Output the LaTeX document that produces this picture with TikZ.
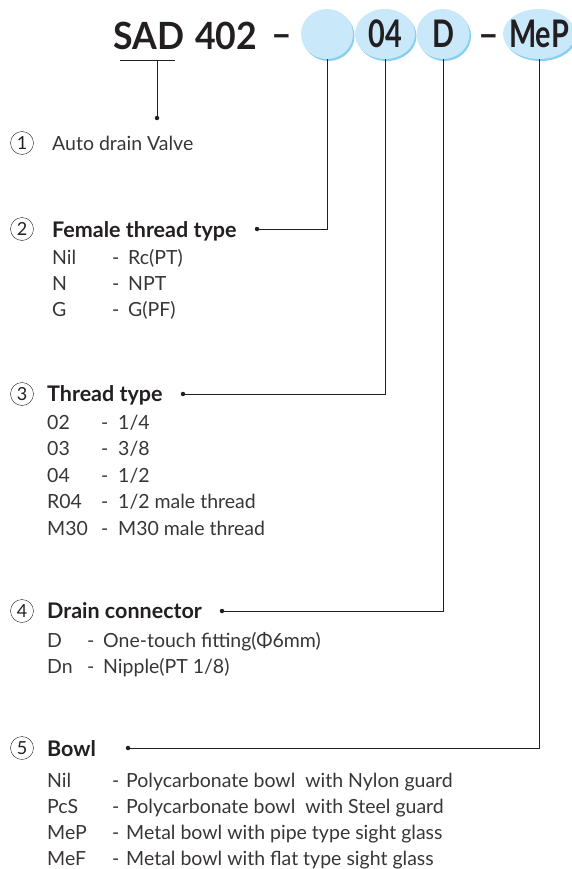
\documentclass[tikz,border=0pt]{standalone}
\usepackage{fontspec}
\setmainfont{Lato}
\newfontfamily\titlefont[FakeStretch=0.95]{Lato}
\newfontfamily\codefont[FakeStretch=0.76]{Lato}
\usetikzlibrary{shapes.geometric}
\definecolor{bubblefill}{HTML}{C9E9FA}
\definecolor{bubbleedge}{HTML}{86CFF2}
\definecolor{ink}{HTML}{231F20}
\tikzset{>=latex,%
  codetext/.style={inner sep=0pt,text=ink,font=\codefont\bfseries\fontsize{38}{38}\selectfont},
  bubble/.style={ellipse,fill=bubblefill,inner sep=0pt,minimum height=50pt,
    preaction={fill=bubbleedge,transform canvas={shift={(1.5pt,-2pt)}}},
    label={[codetext]center:#1}},
  title/.style={anchor=base west,inner sep=0pt,text=ink,
    font=\titlefont\bfseries\fontsize{37.5}{37.5}\selectfont},
  head/.style={anchor=base west,inner sep=0pt,text=ink,font=\bfseries\fontsize{21.5}{21.5}\selectfont},
  item/.style={anchor=base west,inner sep=0pt,text=ink!90,font=\fontsize{19.5}{19.5}\selectfont},
  num/.style={circle,draw=ink,thin,minimum size=23pt,inner sep=0pt,text=ink,
    font=\fontsize{18}{18}\selectfont},
  lead/.style={draw=ink,line width=0.8pt},
  dot/.style={circle,fill=ink,inner sep=0pt,minimum size=4.5pt}}

\begin{document}
\begin{tikzpicture}[x=1pt,y=-1pt]
  \useasboundingbox (0,0) rectangle (571,869);
  \node[title] (sad) at (113,50) {SAD};
  \node[title] (model) at (195,50) {402};
  \node[title] (dash1) at (271,48) {–};
  \node[bubble={},minimum width=52pt] (b1) at (327,34) {};
  \node[bubble=04,minimum width=60pt] (b2) at (385,34) {};
  \node[bubble=D,minimum width=53pt] (b3) at (443,34) {};
  \node[title] (dash2) at (478,48) {–};
  \node[bubble=MeP,minimum width=72pt] (b4) at (539,34) {};

  \coordinate (ul1) at (120,60);
  \coordinate (ul2) at (175,60);
  \coordinate (ulm) at (157,60);
  \draw[lead] (ul1) -- (ul2);

  \node[num] (n1) at (22,143) {1};
  \node[num] (n2) at (22,229) {2};
  \node[num] (n3) at (22,394) {3};
  \node[num] (n4) at (22,611) {4};
  \node[num] (n5) at (22,748) {5};

  \node[item] (h1) at (52,151) {Auto drain Valve};
  \node[head] (h2) at (52,237) {Female thread type};
  \node[head] (h3) at (47,401) {Thread type};
  \node[head] (h4) at (47,618) {Drain connector};
  \node[head] (h5) at (47,756) {Bowl};

  \node[dot] (p1) at (157,118) {};
  \node[dot] (p2) at (257,229) {};
  \node[dot] (p3) at (183,394) {};
  \node[dot] (p4) at (222,611) {};
  \node[dot] (p5) at (128,748) {};

  \draw[lead] (ulm) -- (p1);
  \draw[lead] (b1.south) |- (p2);
  \draw[lead] (b2.south) |- (p3);
  \draw[lead] (b3.south) |- (p4);
  \draw[lead] (b4.south) |- (p5);

  \foreach \k/\v [count=\i] in {Nil/Rc(PT),N/NPT,G/G(PF)}{
    \node[item] (fk\i) at (52,238+26*\i) {\k};
    \node[item] (fd\i) at (112,238+26*\i) {-};
    \node[item] (fv\i) at (128,238+26*\i) {\v};
  }
  \foreach \k/\v [count=\i] in {02/1\slash 4,03/3\slash 8,04/1\slash 2,
      R04/1\slash 2 male thread,M30/M30 male thread}{
    \node[item] (tk\i) at (47,402.5+26.6*\i) {\k};
    \node[item] (td\i) at (101,402.5+26.6*\i) {-};
    \node[item] (tv\i) at (118,402.5+26.6*\i) {\v};
  }
  \foreach \k/\v [count=\i] in {D/One-touch fitting(Φ6mm),Dn/Nipple(PT 1\slash 8)}{
    \node[item] (dk\i) at (47,621+26*\i) {\k};
    \node[item] (dd\i) at (87,621+26*\i) {-};
    \node[item] (dv\i) at (103,621+26*\i) {\v};
  }
  \foreach \k/\v [count=\i] in {Nil/Polycarbonate bowl\ \ with Nylon guard,
      PcS/Polycarbonate bowl\ \ with Steel guard,
      MeP/Metal bowl with pipe type sight glass,
      MeF/Metal bowl with flat type sight glass}{
    \node[item] (wk\i) at (47,761+26*\i) {\k};
    \node[item] (wd\i) at (112,761+26*\i) {-};
    \node[item] (wv\i) at (126,761+26*\i) {\v};
  }
\end{tikzpicture}
\end{document}
